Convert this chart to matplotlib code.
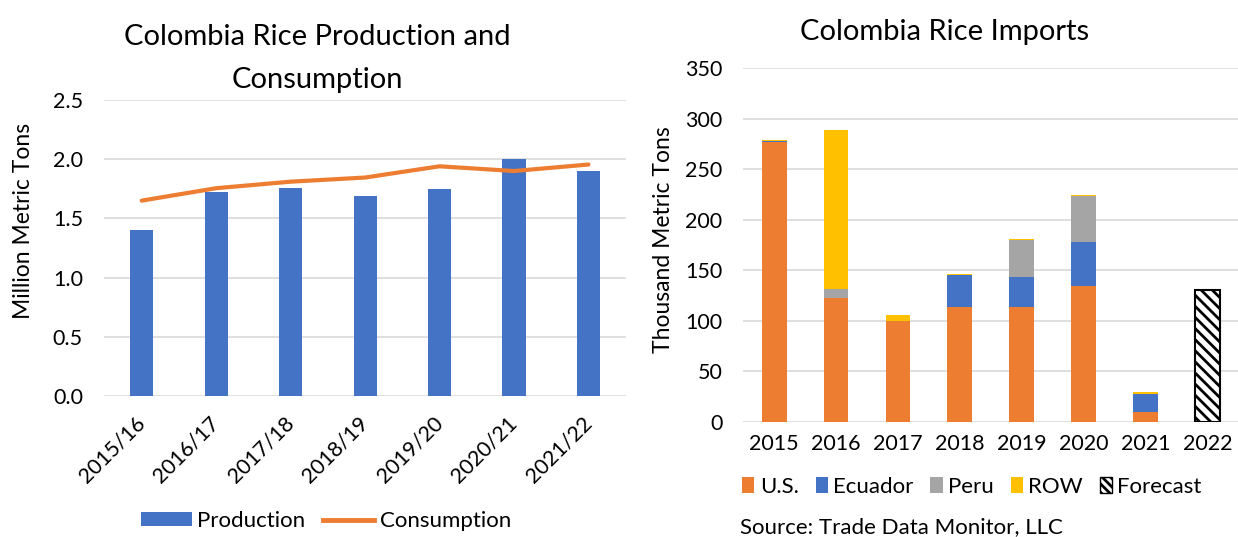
import numpy as np
import matplotlib
matplotlib.use("Agg")
import matplotlib.pyplot as plt
from matplotlib.patches import Patch
from matplotlib.lines import Line2D

plt.rcParams['font.family'] = ['Lato', 'DejaVu Sans']
plt.rcParams['hatch.linewidth'] = 2.0

# ------------------ data ------------------
seasons = ["2015/16", "2016/17", "2017/18", "2018/19", "2019/20", "2020/21", "2021/22"]
production = [1.40, 1.72, 1.76, 1.69, 1.75, 2.00, 1.90]
consumption = [1.65, 1.755, 1.81, 1.845, 1.94, 1.90, 1.955]

years = ["2015", "2016", "2017", "2018", "2019", "2020", "2021", "2022"]
us = [277, 123, 99.5, 114, 114, 134, 9.5, 0]
ecuador = [0.5, 0, 0, 31, 29, 44, 18.5, 0]
peru = [0, 8.5, 0, 0, 37, 45, 0, 0]
row = [1.3, 157.5, 6.5, 1.3, 0.7, 1.5, 1.3, 0]
forecast = [0, 0, 0, 0, 0, 0, 0, 130]

BLUE = "#4472C4"
ORANGE = "#ED7D31"
GRAY = "#A5A5A5"
YELLOW = "#FFC000"
GRID = "#D9D9D9"

TICK_FS = 15.5
LAB_FS = 16.5
LEG_FS = 16
TITLE_FS = 21

fig = plt.figure(figsize=(12.38, 5.37), dpi=100)
W, H = 1238.0, 537.0


def style_axes(ax):
    for s in ax.spines.values():
        s.set_visible(False)
    ax.tick_params(length=0, labelsize=TICK_FS, colors="black")
    ax.grid(axis="y", color=GRID, linewidth=1.2)
    ax.set_axisbelow(True)


# ------------------ left: production & consumption ------------------
ax1 = fig.add_axes([0.0844, 0.2626, 0.421, 0.5512])
x1 = np.arange(len(seasons))
ax1.bar(x1, production, width=0.31, color=BLUE, label="Production")
ax1.plot(x1, consumption, color=ORANGE, linewidth=3, solid_capstyle="round", label="Consumption")
ax1.set_xlim(-0.5, len(seasons) - 0.5)
ax1.set_ylim(0, 2.5)
ax1.set_yticks(np.arange(0, 2.51, 0.5))
ax1.set_yticklabels([f"{v:.1f}" for v in np.arange(0, 2.51, 0.5)])
ax1.set_xticks(x1)
ax1.set_xticklabels(seasons, rotation=45, ha="right", va="center", rotation_mode="anchor")
style_axes(ax1)
ax1.tick_params(axis="x", pad=17)
ax1.tick_params(axis="y", pad=15.5)
ax1.set_ylabel("Million Metric Tons", fontsize=LAB_FS)
ax1.yaxis.set_label_coords(34 / W, 1 - 221 / H, transform=fig.transFigure)

fig.text(317 / W, 1 - 45 / H, "Colombia Rice Production and", fontsize=TITLE_FS,
         ha="center", va="baseline")
fig.text(317 / W, 1 - 88 / H, "Consumption", fontsize=TITLE_FS, ha="center", va="baseline")

h1 = [Patch(facecolor=BLUE), Line2D([0], [0], color=ORANGE, linewidth=3.5)]
fig.legend(h1, ["Production", "Consumption"], loc="center", bbox_to_anchor=(326 / W, 1 - 521 / H),
           ncol=2, frameon=False, fontsize=LEG_FS, handlelength=2.3, handleheight=0.6,
           handletextpad=0.25, columnspacing=0.8, borderpad=0)

# ------------------ right: imports ------------------
ax2 = fig.add_axes([0.6003, 0.2142, 0.4, 0.6592])
x2 = np.arange(len(years))
w = 0.4
bottom = np.zeros(len(years))
for vals, col, lab in [(us, ORANGE, "U.S."), (ecuador, BLUE, "Ecuador"),
                       (peru, GRAY, "Peru"), (row, YELLOW, "ROW")]:
    ax2.bar(x2, vals, width=w, bottom=bottom, color=col, label=lab)
    bottom += np.array(vals)
fx = [i for i, v in enumerate(forecast) if v > 0]
fv = [forecast[i] for i in fx]
ax2.bar(fx, fv, width=w, color="white", edgecolor="black", hatch="\\\\\\",
        linewidth=1.5, label="Forecast")
ax2.set_xlim(-0.5, len(years) - 0.5)
ax2.set_ylim(0, 350)
ax2.set_yticks(np.arange(0, 351, 50))
ax2.set_xticks(x2)
ax2.set_xticklabels(years)
style_axes(ax2)
ax2.tick_params(axis="x", pad=9)
ax2.tick_params(axis="y", pad=15)
ax2.set_ylabel("Thousand Metric Tons", fontsize=LAB_FS)
ax2.yaxis.set_label_coords(674 / W, 1 - 240 / H, transform=fig.transFigure)

fig.text(945 / W, 1 - 40 / H, "Colombia Rice Imports", fontsize=TITLE_FS,
         ha="center", va="baseline")

h2 = [Patch(facecolor=ORANGE), Patch(facecolor=BLUE), Patch(facecolor=GRAY),
      Patch(facecolor=YELLOW),
      Patch(facecolor="white", edgecolor="black", hatch="\\\\\\\\", linewidth=1)]
fig.legend(h2, ["U.S.", "Ecuador", "Peru", "ROW", "Forecast"], loc="center",
           bbox_to_anchor=(972 / W, 1 - 487 / H), ncol=5, frameon=False, fontsize=LEG_FS,
           handlelength=0.55, handleheight=0.75, handletextpad=0.25, columnspacing=0.75,
           borderpad=0)

fig.text(740 / W, 1 - 527 / H, "Source: Trade Data Monitor, LLC", fontsize=LEG_FS,
         ha="left", va="center")

fig.savefig("out.png", dpi=100)
